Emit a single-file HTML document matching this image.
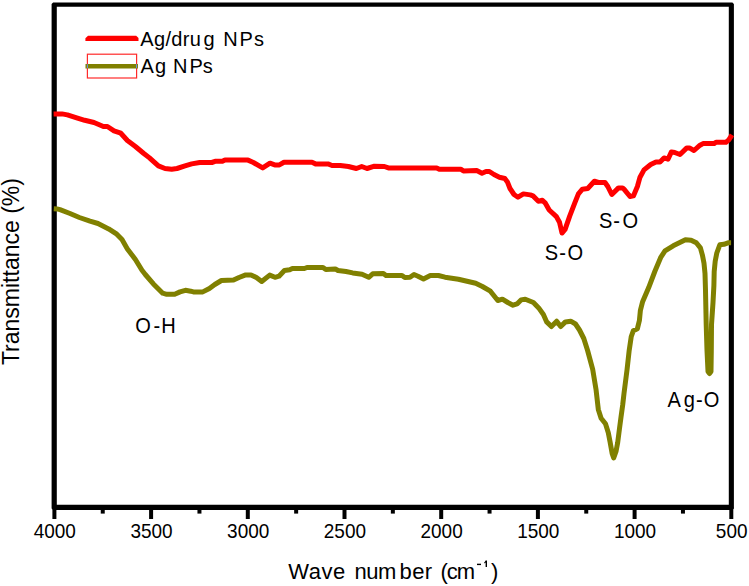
<!DOCTYPE html>
<html><head><meta charset="utf-8"><style>
html,body{margin:0;padding:0;background:#fff;width:749px;height:586px;overflow:hidden}
svg{display:block}
text{font-family:"Liberation Sans",sans-serif;fill:#000}
</style></head><body>
<svg width="749" height="586" viewBox="0 0 749 586">
<path fill="#000" fill-rule="evenodd" d="M53.1,2.4 H732.4 L733.9,3.9 V508.6 L732.4,510.1 H53.1 L51.6,508.6 V3.9 Z M56.8,6.7 V504.8 H728.8 V6.7 Z"/>
<g stroke="#000" stroke-width="4" stroke-linecap="butt">
<line x1="731.30" y1="507" x2="731.30" y2="519.0" /><line x1="682.95" y1="507" x2="682.95" y2="513.6" /><line x1="634.60" y1="507" x2="634.60" y2="519.0" /><line x1="586.25" y1="507" x2="586.25" y2="513.6" /><line x1="537.90" y1="507" x2="537.90" y2="519.0" /><line x1="489.55" y1="507" x2="489.55" y2="513.6" /><line x1="441.20" y1="507" x2="441.20" y2="519.0" /><line x1="392.85" y1="507" x2="392.85" y2="513.6" /><line x1="344.50" y1="507" x2="344.50" y2="519.0" /><line x1="296.15" y1="507" x2="296.15" y2="513.6" /><line x1="247.80" y1="507" x2="247.80" y2="519.0" /><line x1="199.45" y1="507" x2="199.45" y2="513.6" /><line x1="151.10" y1="507" x2="151.10" y2="519.0" /><line x1="102.75" y1="507" x2="102.75" y2="513.6" /><line x1="54.40" y1="507" x2="54.40" y2="519.0" />
</g>
<g font-size="20">
<text transform="translate(731.70,538.1) scale(0.95,1)" text-anchor="middle">500</text><text transform="translate(635.00,538.1) scale(0.95,1)" text-anchor="middle">1000</text><text transform="translate(538.30,538.1) scale(0.95,1)" text-anchor="middle">1500</text><text transform="translate(441.60,538.1) scale(0.95,1)" text-anchor="middle">2000</text><text transform="translate(344.90,538.1) scale(0.95,1)" text-anchor="middle">2500</text><text transform="translate(248.20,538.1) scale(0.95,1)" text-anchor="middle">3000</text><text transform="translate(151.50,538.1) scale(0.95,1)" text-anchor="middle">3500</text><text transform="translate(54.80,538.1) scale(0.95,1)" text-anchor="middle">4000</text>
</g>
<g font-size="22">
<text y="579.4"><tspan x="288.3" letter-spacing="0.5">Wave</tspan><tspan x="354.5" letter-spacing="-0.5">num</tspan><tspan x="399.6" letter-spacing="0.35">ber</tspan><tspan x="440.5" letter-spacing="-1">(cm</tspan><tspan x="491">)</tspan></text>
<rect x="477" y="563.7" width="4" height="1.4" fill="#000"/><path d="M485.6,560.6 H487 V567 H485.6 V562.6 Q485,563.3 484.2,563.6 V562.4 Q485.2,561.8 485.6,560.6 Z" fill="#000"/>
</g>
<text transform="translate(19.1,365.1) rotate(-90)" font-size="23">Transmittance (%)</text>
<polyline points="53.6,114.1 62.0,113.9 67.4,114.9 76.7,117.9 84.7,120.3 94.0,122.5 103.4,126.5 107.4,126.5 114.0,130.9 120.8,133.2 127.4,140.5 135.4,146.5 143.5,153.2 149.5,157.9 151.7,159.9 158.4,165.9 165.0,168.5 171.7,169.2 177.0,168.5 185.0,165.9 191.7,163.9 199.7,162.5 211.8,162.5 215.8,161.2 222.4,161.2 225.0,159.9 248.0,160.1 253.4,162.5 262.7,167.9 270.0,163.2 274.7,164.9 279.4,164.9 284.0,162.3 312.0,162.3 316.0,164.1 328.0,163.9 332.0,165.5 340.3,165.5 348.4,166.5 356.4,168.5 361.7,166.5 367.0,168.5 373.7,166.3 384.4,166.5 388.4,167.9 436.7,167.9 439.3,169.2 460.7,169.2 463.4,170.9 476.7,170.5 482.0,173.2 486.0,171.5 489.4,171.5 494.0,174.5 499.4,177.2 504.8,178.5 507.4,181.9 510.0,188.5 514.0,194.5 518.0,197.2 523.4,193.9 530.3,194.9 533.0,195.9 538.4,201.2 542.4,200.3 545.1,202.8 549.2,210.0 556.4,216.6 559.5,222.3 562.0,233.0 565.1,229.4 569.7,216.1 574.8,202.8 578.4,193.9 582.4,189.2 587.7,188.5 594.4,181.2 598.4,182.5 605.0,182.5 607.8,186.5 611.8,194.5 618.5,187.9 622.5,187.9 624.0,189.2 630.0,196.5 633.4,195.9 637.4,186.5 640.0,177.2 644.0,169.9 650.7,164.5 656.0,161.9 660.0,161.9 664.0,157.9 668.0,159.2 671.4,151.9 674.7,152.5 680.0,154.5 686.8,147.9 689.4,147.9 694.0,150.5 700.0,145.2 703.0,143.6 714.0,143.6 716.0,142.2 726.0,142.2 728.8,139.9 732.0,134.8" fill="none" stroke="#ff0000" stroke-width="5" stroke-linejoin="round" stroke-linecap="butt"/>
<polyline points="53.8,208.7 57.0,208.9 60.0,209.7 70.0,213.5 79.4,217.5 90.0,221.1 98.0,223.5 108.7,228.9 116.8,234.2 122.0,239.5 127.4,248.9 135.4,259.5 142.0,270.3 145.3,274.5 153.4,283.9 162.7,293.2 166.7,294.3 174.7,294.3 180.0,291.9 185.4,290.3 190.7,291.2 193.4,291.9 202.8,291.9 209.4,288.5 214.8,284.5 221.4,280.5 233.5,280.1 239.0,277.5 245.7,274.9 251.0,274.9 256.4,277.5 261.7,281.5 269.7,275.1 275.0,277.3 279.0,276.2 284.4,270.5 289.7,269.8 292.4,268.5 304.4,268.5 307.0,267.5 323.0,267.5 325.8,269.5 335.3,268.9 338.0,270.5 346.0,271.5 352.7,272.9 362.0,274.2 368.7,277.3 372.7,273.8 383.4,273.5 386.0,275.5 402.0,275.5 404.8,277.5 410.0,277.3 414.0,274.5 418.0,276.2 423.5,278.9 430.3,275.5 438.4,275.5 445.0,277.2 458.4,279.2 475.7,283.2 482.4,286.5 490.4,291.2 493.0,294.5 497.8,300.5 502.4,299.2 507.8,302.5 513.0,305.2 517.0,303.9 521.0,299.9 525.3,299.2 533.4,302.5 538.7,307.9 543.4,314.5 546.7,321.9 551.4,326.5 556.7,321.2 560.7,326.5 565.4,321.9 570.7,321.2 575.5,324.0 579.5,330.0 583.8,338.5 587.6,350.5 592.7,369.3 596.0,389.3 598.3,409.4 601.1,418.2 605.5,423.8 608.3,432.7 610.0,441.5 612.2,453.7 613.7,458.0 616.0,451.5 617.7,442.5 619.4,429.3 621.0,417.1 622.7,404.9 624.0,393.5 627.1,369.3 629.2,350.3 631.2,336.8 633.3,330.7 637.4,328.7 639.4,320.5 640.4,310.3 642.5,302.1 648.6,287.8 654.8,271.5 660.9,257.1 665.0,250.9 673.2,245.8 679.3,242.8 685.4,239.7 691.1,240.2 696.3,242.8 700.4,247.9 702.4,255.1 704.0,263.3 705.0,273.5 705.5,290.5 706.2,324.5 707.0,350.5 708.0,371.5 709.5,373.5 711.0,371.5 711.3,350.5 711.5,324.5 713.0,302.5 713.9,285.5 714.2,271.5 715.2,261.2 716.8,253.0 719.8,244.8 723.9,244.3 728.0,242.8 731.1,242.8" fill="none" stroke="#808000" stroke-width="5" stroke-linejoin="round" stroke-linecap="butt"/>
<path d="M85.4,41.1 V38.3 L88,35.8 H136.2 L138.5,38 V41.1 Z" fill="#ff0000"/>
<rect x="87.4" y="54.2" width="49.2" height="23.8" fill="none" stroke="#ff2a2a" stroke-width="1.2"/>
<line x1="85.5" y1="66.2" x2="138" y2="66.2" stroke="#808000" stroke-width="4.6"/>
<rect x="86.9" y="64.2" width="1" height="4" fill="#6f8fe0"/><rect x="136.1" y="64.2" width="1" height="4" fill="#6f8fe0"/>
<g font-size="20">
<text y="45.8"><tspan x="140.3" letter-spacing="0.34">Ag/dru</tspan><tspan x="203.5">g</tspan><tspan x="223.2">N</tspan><tspan x="239.6">P</tspan><tspan x="254.1">s</tspan></text>
<text y="72.8"><tspan x="140.4" letter-spacing="1.2">Ag</tspan><tspan x="172.9">N</tspan><tspan x="189.4">P</tspan><tspan x="202.7">s</tspan></text>
</g>
<text transform="translate(0,332.7) scale(0.93,1)" font-size="21.6"><tspan x="145.54" y="0">O</tspan><tspan x="164.95" y="0">-</tspan><tspan x="173.50" y="0">H</tspan></text>
<text transform="translate(0,260.0) scale(0.93,1)" font-size="21.6"><tspan x="585.90" y="0">S</tspan><tspan x="601.30" y="0">-</tspan><tspan x="610.27" y="0">O</tspan></text>
<text transform="translate(0,227.8) scale(0.93,1)" font-size="21.6"><tspan x="643.97" y="0">S</tspan><tspan x="659.36" y="0">-</tspan><tspan x="669.30" y="0">O</tspan></text>
<text transform="translate(0,406.5) scale(0.93,1)" font-size="21.6"><tspan x="717.70" y="0">A</tspan><tspan x="735.11" y="0">g</tspan><tspan x="748.40" y="0">-</tspan><tspan x="756.72" y="0">O</tspan></text>
</svg>
</body></html>
